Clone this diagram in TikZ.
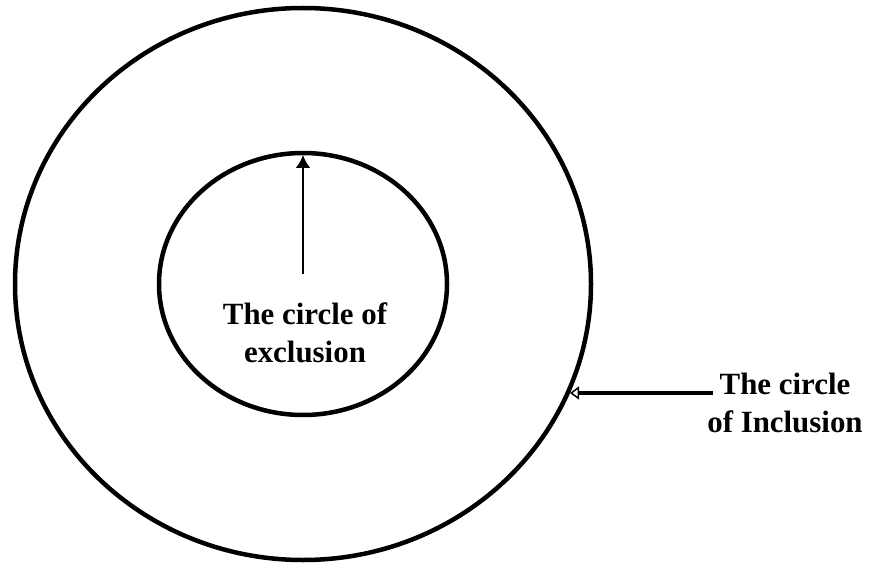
\documentclass[tikz,border=0pt]{standalone}
\usepackage{fontspec}
\setmainfont{Liberation Serif}
\usetikzlibrary{arrows.meta,shapes.geometric}
\begin{document}
\begin{tikzpicture}[x=1bp,y=-1bp,
  ring/.style={draw=black,line width=4.5bp},
  lbl/.style={font=\bfseries\fontsize{31}{38}\selectfont,align=center,inner sep=0pt,anchor=base},
  upline/.style={line width=2.5bp,-{Latex[length=13bp,width=15bp]}},
  sideline/.style={line width=4bp,-{Triangle[open,length=9bp,width=13bp,line width=1.5bp]}}]
\useasboundingbox (0,0) rectangle (869,564);
\coordinate (c) at (303,284);
\draw[ring] (c) ellipse [x radius=288, y radius=276];
\draw[ring] (c) ellipse [x radius=144, y radius=131];
\node[lbl] (excl) at (305,362) {The circle of\\exclusion};
\node[lbl] (incl) at (785,432) {The circle\\of Inclusion};
\coordinate (upstart) at (303,274);
\coordinate (uptop) at (303,155);
\coordinate (sidestart) at (713,393);
\coordinate (sideend) at (570,393);
\draw[upline] (upstart) -- (uptop);
\draw[sideline] (sidestart) -- (sideend);
\end{tikzpicture}
\end{document}
